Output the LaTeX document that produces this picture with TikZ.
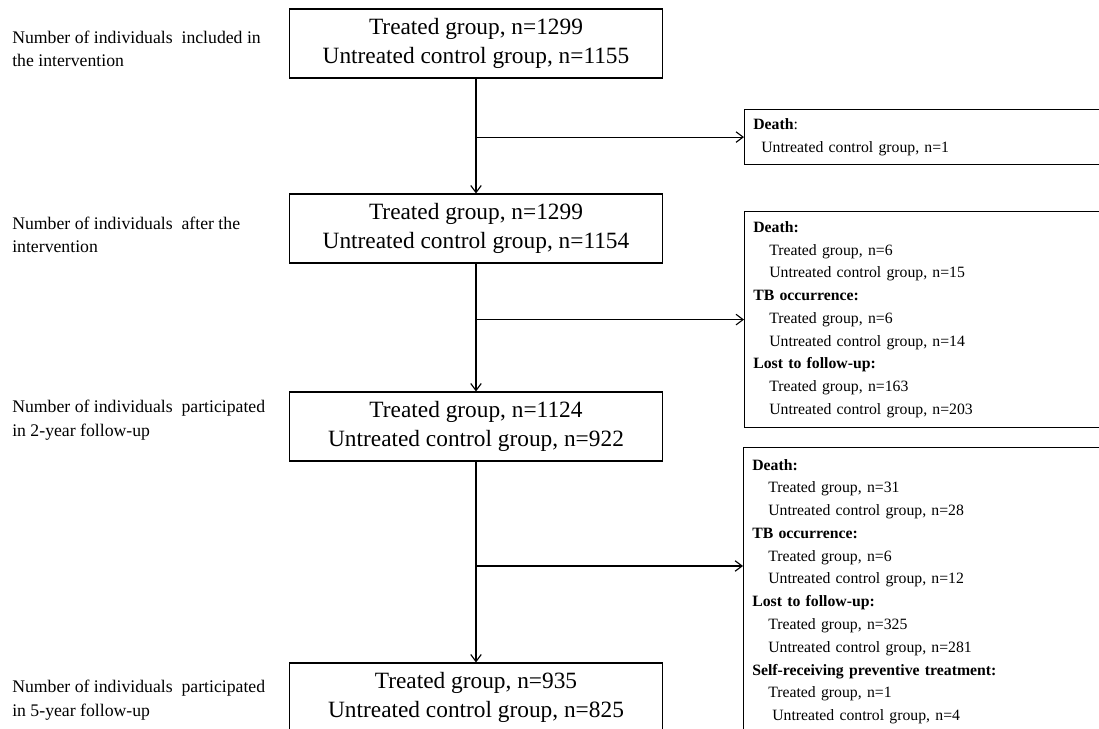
\documentclass[tikz,border=0pt]{standalone}
\usepackage{fontspec}
\setmainfont{Liberation Serif}
\usetikzlibrary{arrows.meta, positioning, calc}

\newcommand{\grpline}[2][11.4pt]{\hspace*{#1}#2}

\tikzset{
    groupbox/.style={draw, line width=0.8pt, minimum width=9.325cm, minimum height=1.725cm,
        align=center, font=\fontsize{16.6}{20.3}\selectfont},
    dropbox/.style={draw, line width=0.8pt, anchor=north west, text width=9cm, inner xsep=6.2pt,
        align=left, font=\fontsize{11.2}{16.2}\selectfont},
    stagelabel/.style={anchor=west, align=left, inner sep=0pt, font=\fontsize{12.6}{16.7}\selectfont},
    flow/.style={line width=0.8pt, -{Straight Barb[length=5pt, width=7.5pt]}}
}

\begin{document}
\begin{tikzpicture}[x=0.025cm, y=-0.025cm]
        \useasboundingbox (0,0) rectangle (1099,729);
        \clip (0,0) rectangle (1099,729);

        % Stage labels
        \node[stagelabel] (lab1) at (12,49) {Number of individuals\ \ included in\\the intervention};
        \node[stagelabel] (lab2) at (12,235) {Number of individuals\ \ after the\\intervention};
        \node[stagelabel] (lab3) at (12,420) {Number of individuals\ \ participated\\in 2-year follow-up};
        \node[stagelabel] (lab4) at (12,700) {Number of individuals\ \ participated\\in 5-year follow-up};

        % Group boxes
        \node[groupbox] (grp1) at (476,43.5) {Treated group, n=1299\\Untreated control group, n=1155};
        \node[groupbox] (grp2) at (476,228.5) {Treated group, n=1299\\Untreated control group, n=1154};
        \node[groupbox] (grp3) at (476,426.5) {Treated group, n=1124\\Untreated control group, n=922};
        \node[groupbox] (grp4) at (476,697.5) {Treated group, n=935\\Untreated control group, n=825};

        % Excluded boxes
        \node[dropbox, minimum height=1.375cm] (drop1) at (744,109) {%
            \textbf{Death}:\\
            \grpline[5.7pt]{Untreated control group, n=1}};
        \node[dropbox, minimum height=5.4cm] (drop2) at (744,211) {%
            \textbf{Death:}\\
            \grpline{Treated group, n=6}\\
            \grpline{Untreated control group, n=15}\\
            \textbf{TB occurrence:}\\
            \grpline{Treated group, n=6}\\
            \grpline{Untreated control group, n=14}\\
            \textbf{Lost to follow-up:}\\
            \grpline{Treated group, n=163}\\
            \grpline{Untreated control group, n=203}};
        \node[dropbox, minimum height=7.2cm] (drop3) at (743,447) {%
            \textbf{Death:}\\
            \grpline{Treated group, n=31}\\
            \grpline{Untreated control group, n=28}\\
            \textbf{TB occurrence:}\\
            \grpline{Treated group, n=6}\\
            \grpline{Untreated control group, n=12}\\
            \textbf{Lost to follow-up:}\\
            \grpline{Treated group, n=325}\\
            \grpline{Untreated control group, n=281}\\
            \textbf{Self-receiving preventive treatment:}\\
            \grpline{Treated group, n=1}\\
            \grpline[14.2pt]{Untreated control group, n=4}};

        % Flow arrows
        \draw[flow] (grp1) -- (grp2);
        \draw[flow] (grp2) -- (grp3);
        \draw[flow] (grp3) -- (grp4);

        % Branches
        \coordinate (br1) at (grp1.south |- drop1.west);
        \coordinate (br2) at (grp2.south |- drop2.west);
        \coordinate (br3) at (476,566);
        \draw[flow] (br1) -- (drop1.west);
        \draw[flow] (br2) -- (drop2.west);
        \draw[flow] (br3) -- (br3 -| drop3.west);
    \end{tikzpicture}
\end{document}
